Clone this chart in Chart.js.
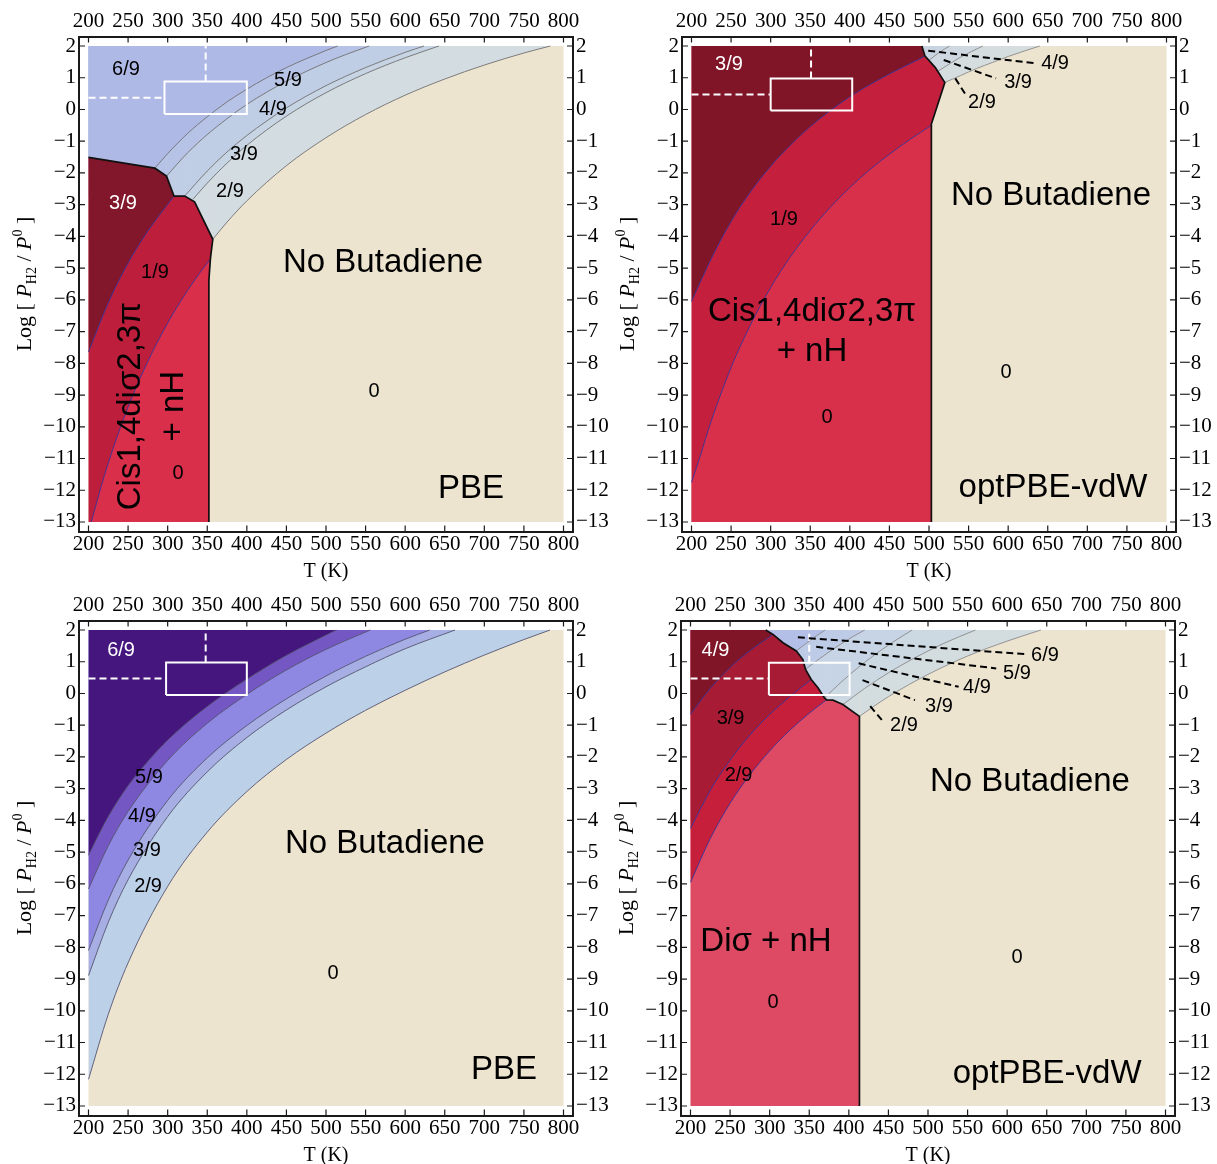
<!DOCTYPE html>
<html lang="en">
<head>
<meta charset="utf-8">
<title>Butadiene + H phase diagrams (PBE / optPBE-vdW)</title>
<script src="https://cdn.jsdelivr.net/npm/chart.js@4.4.1/dist/chart.umd.min.js"></script>
<style>
  html, body { margin: 0; padding: 0; background: #ffffff; }
  #figure { position: relative; width: 1217px; height: 1164px; overflow: hidden; }
  #figure canvas { position: absolute; }
</style>
</head>
<body>
<div id="figure">
  <canvas id="pbeTop" width="625" height="584" style="left:0px;top:0px"></canvas>
  <canvas id="vdwTop" width="625" height="584" style="left:603px;top:0px"></canvas>
  <canvas id="pbeBot" width="625" height="584" style="left:0px;top:584px"></canvas>
  <canvas id="vdwBot" width="625" height="584" style="left:602px;top:584px"></canvas>
</div>
<script>
// ---------------- axes ----------------
const tempTicks = [200, 250, 300, 350, 400, 450, 500, 550, 600, 650, 700, 750, 800];
const logPTicks = [2, 1, 0, -1, -2, -3, -4, -5, -6, -7, -8, -9, -10, -11, -12, -13];
const T_MIN = 200, T_MAX = 800, P_MIN = -13, P_MAX = 2;

// ---------------- PBE, Cis1,4diσ2,3π (top left) ----------------
// black phase edge between the adsorbed-butadiene states and the H-covered surface
const pbeTop_edgeT = [200, 283.8, 298.5, 308, 321.5, 334, 357, 354, 352, 352];
const pbeTop_edgeP = [-1.51, -1.85, -2.10, -2.73, -2.73, -2.91, -4.09, -4.70, -5.40, -13];
const pbeTop_r31T = [200, 225, 250, 275, 308];
const pbeTop_r31P = [-7.64, -6.09, -4.84, -3.83, -2.73];
const pbeTop_r10T = [203.5, 220, 240, 260, 280, 300, 320, 340, 353];
const pbeTop_r10P = [-13, -11.54, -10.04, -8.77, -7.68, -6.73, -5.90, -5.17, -4.74];
const pbeTop_c65T = [283.8, 300, 325, 350, 375, 400, 425, 450, 475, 500, 514.6];
const pbeTop_c65P = [-1.85, -1.39, -0.76, -0.23, 0.24, 0.64, 1.00, 1.32, 1.60, 1.86, 2];
const pbeTop_c54T = [298.5, 325, 350, 375, 400, 450, 500, 525, 554.5];
const pbeTop_c54P = [-2.10, -1.37, -0.79, -0.29, 0.16, 0.89, 1.48, 1.73, 2];
const pbeTop_c43T = [321.5, 350, 375, 400, 450, 500, 550, 600, 623.8];
const pbeTop_c43P = [-2.73, -1.94, -1.34, -0.82, 0.05, 0.75, 1.32, 1.80, 2];
const pbeTop_c32T = [332, 350, 375, 400, 450, 500, 550, 600, 642.7];
const pbeTop_c32P = [-2.83, -2.32, -1.69, -1.13, -0.21, 0.53, 1.13, 1.63, 2];
const pbeTop_c20T = [357, 375, 400, 450, 500, 550, 600, 650, 700, 750, 783.4];
const pbeTop_c20P = [-4.09, -3.55, -2.88, -1.77, -0.89, -0.16, 0.45, 0.96, 1.40, 1.78, 2];
const pbeTop_boxT = [296, 400], pbeTop_boxP = [-0.14, 0.88], pbeTop_guide = [348, 0.37];

// ---------------- optPBE-vdW, Cis1,4diσ2,3π (top right) ----------------
const vdwTop_edgeT = [491, 495, 508, 520, 503, 503];
const vdwTop_edgeP = [2, 1.68, 1.32, 0.85, -0.46, -13];
const vdwTop_r31T = [200, 225, 250, 275, 300, 325, 350, 375, 400, 425, 450, 475, 495];
const vdwTop_r31P = [-6.05, -4.70, -3.53, -2.58, -1.79, -1.12, -0.54, -0.04, 0.40, 0.78, 1.12, 1.43, 1.68];
const vdwTop_r10T = [200, 210, 225, 250, 275, 300, 325, 350, 375, 400, 425, 450, 475, 503];
const vdwTop_r10P = [-11.75, -11.0, -9.81, -8.13, -6.76, -5.61, -4.64, -3.81, -3.09, -2.46, -1.90, -1.41, -0.96, -0.50];
const vdwTop_c43T = [500, 513, 526];
const vdwTop_c43P = [1.55, 1.80, 2];
const vdwTop_c32T = [511, 540, 568];
const vdwTop_c32P = [1.20, 1.65, 2];
const vdwTop_c20T = [520, 540, 560, 580, 600, 620, 640];
const vdwTop_c20P = [0.85, 1.07, 1.29, 1.48, 1.67, 1.84, 2];
const vdwTop_boxT = [300, 403], vdwTop_boxP = [-0.03, 0.98], vdwTop_guide = [351, 0.47];
const vdwTop_tagT = [[499, 636], [518.6, 584.7], [533.2, 548]];
const vdwTop_tagP = [[1.85, 1.45], [1.56, 0.98], [0.98, 0.40]];

// ---------------- PBE, Diσ (bottom left) ----------------
const pbeBot_c65T = [200, 225, 250, 275, 300, 350, 400, 450, 513];
const pbeBot_c65P = [-5.10, -3.88, -2.91, -2.14, -1.47, -0.41, 0.45, 1.20, 2];
const pbeBot_c54T = [200, 225, 250, 300, 350, 400, 450, 500, 556];
const pbeBot_c54P = [-6.16, -4.80, -3.72, -2.11, -0.94, -0.03, 0.74, 1.39, 2];
const pbeBot_c43T = [200, 225, 250, 300, 350, 400, 450, 500, 550, 600, 631];
const pbeBot_c43P = [-8.10, -6.51, -5.25, -3.37, -2.03, -1.01, -0.17, 0.55, 1.17, 1.71, 2];
const pbeBot_c32T = [200, 225, 250, 300, 350, 400, 450, 500, 550, 600, 663];
const pbeBot_c32P = [-8.89, -7.21, -5.87, -3.88, -2.47, -1.39, -0.52, 0.21, 0.84, 1.41, 2];
const pbeBot_c20T = [200, 225, 250, 300, 350, 400, 450, 500, 550, 600, 650, 700, 750, 783];
const pbeBot_c20P = [-12.16, -10.11, -8.49, -6.08, -4.37, -3.09, -2.08, -1.25, -0.53, 0.10, 0.68, 1.21, 1.70, 2];
const pbeBot_boxT = [298, 400], pbeBot_boxP = [-0.05, 0.98], pbeBot_guide = [348, 0.47];

// ---------------- optPBE-vdW, Diσ (bottom right) ----------------
const vdwBot_edgeT = [295, 304.2, 316.8, 333.6, 342, 345.3, 352.5, 361, 369.3, 372, 380, 392.5, 413.4, 413.4];
const vdwBot_edgeP = [2, 1.86, 1.60, 1.34, 1.07, 0.76, 0.44, 0.18, -0.14, -0.20, -0.21, -0.35, -0.72, -13];
const vdwBot_r43T = [200, 225, 250, 275, 304.2];
const vdwBot_r43P = [-0.655, 0.16, 0.82, 1.35, 1.86];
const vdwBot_r32T = [200, 225, 250, 275, 300, 325, 352.5];
const vdwBot_r32P = [-4.25, -3.05, -2.10, -1.31, -0.66, -0.11, 0.44];
const vdwBot_r20T = [200, 225, 250, 275, 300, 325, 350, 372];
const vdwBot_r20P = [-5.95, -4.57, -3.46, -2.56, -1.81, -1.17, -0.62, -0.20];
const vdwBot_c65T = [333.6, 345, 357, 370];
const vdwBot_c65P = [1.34, 1.56, 1.78, 2];
const vdwBot_c54T = [345.3, 360, 375, 390, 405, 420];
const vdwBot_c54P = [0.76, 1.04, 1.31, 1.56, 1.79, 2];
const vdwBot_c43T = [369.3, 390, 410, 430, 455, 480];
const vdwBot_c43P = [-0.14, 0.35, 0.78, 1.17, 1.61, 2];
const vdwBot_c32T = [392.5, 420, 450, 480, 520, 560];
const vdwBot_c32P = [-0.35, 0.16, 0.65, 1.08, 1.58, 2];
const vdwBot_c20T = [413.4, 450, 500, 550, 600, 642.5];
const vdwBot_c20P = [-0.72, -0.10, 0.60, 1.18, 1.65, 2];
const vdwBot_boxT = [299, 401], vdwBot_boxP = [-0.05, 0.97], vdwBot_guide = [350, 0.47];
const vdwBot_tagT = [[335.6, 622.3], [358.8, 586.2], [412.4, 538.7], [417.3, 483.5], [427, 441.8]];
const vdwBot_tagP = [[1.77, 1.24], [1.47, 0.79], [0.95, 0.21], [0.42, -0.21], [-0.40, -0.84]];

// ---------------- helpers ----------------
const BEIGE = '#EDE4D0';
const T_PAD = 12, P_PAD = 0.3;
const pts = (T, P) => T.map((t, i) => ({x: t, y: P[i]}));
const rect = (x0, y0, x1, y1) => [{x: x0, y: y0}, {x: x1, y: y0}, {x: x1, y: y1}, {x: x0, y: y1}];
const corner = (x, y) => ({x, y});

function base(data, extra) {
  return Object.assign({
    type: 'line', data, xAxisID: 'x', yAxisID: 'y',
    pointRadius: 0, pointHoverRadius: 0, pointHitRadius: 0,
    borderWidth: 0, borderColor: 'rgba(0,0,0,0)', backgroundColor: 'rgba(0,0,0,0)',
    fill: false, tension: 0
  }, extra);
}
const polygon = (data, color) => base(data, {fill: 'shape', backgroundColor: color});
const areaTo = (data, value, color) => base(data, {fill: {target: {value}}, backgroundColor: color, cubicInterpolationMode: 'monotone'});
const between = (data, idx, color) => base(data, {fill: idx, backgroundColor: color, cubicInterpolationMode: 'monotone'});
const stroke = (data, color, width, extra) => base(data, Object.assign({borderColor: color, borderWidth: width}, extra || {}));

function panelDatasets(p) {
  const L = [];
  const push = d => { L.push(d); return L.length - 1; };
  push(polygon(rect(T_MIN, P_MIN, T_MAX, P_MAX), BEIGE));
  // coverage bands, lowest coverage first; each is painted above its boundary curve
  for (const b of p.bands) {
    const s = b.line[0];
    if (s.x > T_MIN) push(polygon(rect(T_MIN, s.y, s.x, P_MAX), b.color));
    push(areaTo(b.line, P_MAX, b.color));
  }
  if (p.red) {
    push(polygon(p.red.outline, p.red.color));
    const cap = push(stroke(p.red.cap, 'rgba(0,0,0,0)', 0));
    for (const r of p.red.layers) {
      if (r.mode === 'below') push(areaTo(r.line, P_MIN, r.color));
      else push(between(r.line, cap, r.color));
    }
  }
  for (const b of p.bands) push(stroke(b.line, p.bandStroke, 0.9, {cubicInterpolationMode: 'monotone'}));
  if (p.red) {
    for (const r of p.red.layers) push(stroke(r.line, '#36369c', 0.9, {cubicInterpolationMode: 'monotone'}));
    push(stroke(p.red.edge, '#111111', 1.7));
  }
  // reaction-condition window and guides
  const [t0, t1] = p.boxT, [q0, q1] = p.boxP, [gT, gP] = p.guide;
  push(stroke([corner(t0, q0), corner(t1, q0), corner(t1, q1), corner(t0, q1), corner(t0, q0)], '#ffffff', 2));
  push(stroke([corner(T_MIN, gP), corner(t0, gP)], '#ffffff', 2, {borderDash: [7, 4]}));
  push(stroke([corner(gT, q1), corner(gT, P_MAX)], '#ffffff', 2, {borderDash: [7, 4]}));
  for (const q of (p.tags || [])) push(stroke(q, '#000000', 2, {borderDash: [7, 4]}));
  const n = L.length;
  L.forEach((d, i) => { d.order = n - i; });
  return L;
}

const tagLines = (T, P) => T.map((t, i) => pts(t, P[i]));

// ---------------- panel descriptions ----------------
const panels = {
  pbeTop: {
    bands: [
      {line: pts(pbeTop_c20T, pbeTop_c20P), color: '#D3DCE0'},
      {line: pts(pbeTop_c32T, pbeTop_c32P), color: '#C6D4E4'},
      {line: pts(pbeTop_c43T, pbeTop_c43P), color: '#BFCDE5'},
      {line: pts(pbeTop_c54T, pbeTop_c54P), color: '#B7C3E6'},
      {line: pts(pbeTop_c65T, pbeTop_c65P), color: '#AFB9E6'}
    ],
    bandStroke: '#707070',
    red: {
      outline: [...pts(pbeTop_edgeT, pbeTop_edgeP), corner(T_MIN, P_MIN)],
      color: '#BC1E3C',
      cap: pts(pbeTop_edgeT.slice(0, 4), pbeTop_edgeP.slice(0, 4)),
      layers: [
        {line: pts(pbeTop_r10T, pbeTop_r10P), mode: 'below', color: '#D92F4B'},
        {line: pts(pbeTop_r31T, pbeTop_r31P), mode: 'between', color: '#82162A'}
      ],
      edge: pts(pbeTop_edgeT, pbeTop_edgeP)
    },
    boxT: pbeTop_boxT, boxP: pbeTop_boxP, guide: pbeTop_guide,
    notes: [
      {text: '6/9', T: 247.4, P: 1.31, size: 20},
      {text: '5/9', T: 452.0, P: 0.96, size: 20},
      {text: '4/9', T: 433.0, P: 0.05, size: 20},
      {text: '3/9', T: 396.4, P: -1.37, size: 20},
      {text: '2/9', T: 378.7, P: -2.54, size: 20},
      {text: '3/9', T: 243.6, P: -2.92, size: 20, color: '#ffffff'},
      {text: '1/9', T: 284.0, P: -5.09, size: 20},
      {text: 'No Butadiene', T: 572, P: -4.74, size: 33},
      {text: '0', T: 560.6, P: -8.84, size: 20},
      {text: '0', T: 313, P: -11.43, size: 20},
      {text: 'PBE', T: 683.1, P: -11.87, size: 33},
      {text: 'Cis1,4diσ2,3π', T: 249.9, P: -9.35, size: 33, rot: -90},
      {text: '+ nH', T: 304.2, P: -9.35, size: 33, rot: -90}
    ]
  },
  vdwTop: {
    bands: [
      {line: pts(vdwTop_c20T, vdwTop_c20P), color: '#D5DDDF'},
      {line: pts(vdwTop_c32T, vdwTop_c32P), color: '#CFD8E0'},
      {line: pts(vdwTop_c43T, vdwTop_c43P), color: '#C9D4E2'}
    ],
    bandStroke: '#8a8a8a',
    red: {
      outline: [corner(T_MIN, P_MAX), ...pts(vdwTop_edgeT, vdwTop_edgeP), corner(T_MIN, P_MIN)],
      color: '#C41F3C',
      cap: [corner(T_MIN, P_MAX), ...pts(vdwTop_edgeT.slice(0, 2), vdwTop_edgeP.slice(0, 2))],
      layers: [
        {line: pts(vdwTop_r10T, vdwTop_r10P), mode: 'below', color: '#D8304A'},
        {line: pts(vdwTop_r31T, vdwTop_r31P), mode: 'between', color: '#811528'}
      ],
      edge: pts(vdwTop_edgeT, vdwTop_edgeP)
    },
    boxT: vdwTop_boxT, boxP: vdwTop_boxP, guide: vdwTop_guide,
    tags: tagLines(vdwTop_tagT, vdwTop_tagP),
    notes: [
      {text: '3/9', T: 247.4, P: 1.46, size: 20, color: '#ffffff'},
      {text: '1/9', T: 316.8, P: -3.42, size: 20},
      {text: 'Cis1,4diσ2,3π', T: 352.2, P: -6.29, size: 33},
      {text: '+ nH', T: 352.2, P: -7.55, size: 33},
      {text: '0', T: 371.1, P: -9.66, size: 20},
      {text: 'No Butadiene', T: 654.1, P: -2.63, size: 33},
      {text: '0', T: 597.2, P: -8.24, size: 20},
      {text: 'optPBE-vdW', T: 656.6, P: -11.85, size: 33},
      {text: '4/9', T: 659.2, P: 1.50, size: 20},
      {text: '3/9', T: 612.5, P: 0.90, size: 20},
      {text: '2/9', T: 566.9, P: 0.27, size: 20}
    ]
  },
  pbeBot: {
    bands: [
      {line: pts(pbeBot_c20T, pbeBot_c20P), color: '#BCD0E7'},
      {line: pts(pbeBot_c32T, pbeBot_c32P), color: '#A6AEE4'},
      {line: pts(pbeBot_c43T, pbeBot_c43P), color: '#8E88E2'},
      {line: pts(pbeBot_c54T, pbeBot_c54P), color: '#7457C2'},
      {line: pts(pbeBot_c65T, pbeBot_c65P), color: '#46167F'}
    ],
    bandStroke: '#555570',
    boxT: pbeBot_boxT, boxP: pbeBot_boxP, guide: pbeBot_guide,
    notes: [
      {text: '6/9', T: 241.1, P: 1.40, size: 20, color: '#ffffff'},
      {text: '5/9', T: 276.4, P: -2.58, size: 20},
      {text: '4/9', T: 267.6, P: -3.81, size: 20},
      {text: '3/9', T: 273.9, P: -4.88, size: 20},
      {text: '2/9', T: 275.2, P: -6.02, size: 20},
      {text: 'No Butadiene', T: 574.5, P: -4.66, size: 33},
      {text: '0', T: 508.8, P: -8.78, size: 20},
      {text: 'PBE', T: 724.8, P: -11.77, size: 33}
    ]
  },
  vdwBot: {
    bands: [
      {line: pts(vdwBot_c20T, vdwBot_c20P), color: '#D3DCDF'},
      {line: pts(vdwBot_c32T, vdwBot_c32P), color: '#CCD8E2'},
      {line: pts(vdwBot_c43T, vdwBot_c43P), color: '#C6D4E5'},
      {line: pts(vdwBot_c54T, vdwBot_c54P), color: '#BECBE7'},
      {line: pts(vdwBot_c65T, vdwBot_c65P), color: '#B4BFE8'}
    ],
    bandStroke: '#8a8a8a',
    red: {
      outline: [corner(T_MIN, P_MAX), ...pts(vdwBot_edgeT, vdwBot_edgeP), corner(T_MIN, P_MIN)],
      color: '#DE4A63',
      cap: [corner(T_MIN, P_MAX), ...pts(vdwBot_edgeT.slice(0, -1), vdwBot_edgeP.slice(0, -1))],
      layers: [
        {line: pts(vdwBot_r20T, vdwBot_r20P), mode: 'between', color: '#C51F3C'},
        {line: pts(vdwBot_r32T, vdwBot_r32P), mode: 'between', color: '#A71B35'},
        {line: pts(vdwBot_r43T, vdwBot_r43P), mode: 'between', color: '#7F1527'}
      ],
      edge: pts(vdwBot_edgeT, vdwBot_edgeP)
    },
    boxT: vdwBot_boxT, boxP: vdwBot_boxP, guide: vdwBot_guide,
    tags: tagLines(vdwBot_tagT, vdwBot_tagP),
    notes: [
      {text: '4/9', T: 231.6, P: 1.40, size: 20, color: '#ffffff'},
      {text: '3/9', T: 250.6, P: -0.74, size: 20},
      {text: '2/9', T: 260.7, P: -2.52, size: 20},
      {text: 'No Butadiene', T: 628.8, P: -2.70, size: 33},
      {text: 'Diσ + nH', T: 295.4, P: -7.74, size: 33},
      {text: '0', T: 304.2, P: -9.69, size: 20},
      {text: '0', T: 612.4, P: -8.27, size: 20},
      {text: 'optPBE-vdW', T: 650.5, P: -11.90, size: 33},
      {text: '6/9', T: 647.8, P: 1.24, size: 20},
      {text: '5/9', T: 612.4, P: 0.67, size: 20},
      {text: '4/9', T: 561.9, P: 0.23, size: 20},
      {text: '3/9', T: 513.9, P: -0.37, size: 20},
      {text: '2/9', T: 469.6, P: -0.97, size: 20}
    ]
  }
};

// ---------------- text, frame ticks and axis title ----------------
const SANS = '"Liberation Sans", Arial, Helvetica, sans-serif';
const SERIF = '"Liberation Serif", "Times New Roman", serif';

function drawYTitle(ctx, cx, cy) {
  const big = 22, small = 14;
  const runs = [
    {t: 'Log [ ', f: `${big}px ${SERIF}`, dy: 0},
    {t: 'P', f: `italic ${big}px ${SERIF}`, dy: 0},
    {t: 'H2', f: `${small}px ${SERIF}`, dy: 5},
    {t: ' / ', f: `${big}px ${SERIF}`, dy: 0},
    {t: 'P', f: `italic ${big}px ${SERIF}`, dy: 0},
    {t: '0', f: `${small}px ${SERIF}`, dy: -9},
    {t: ' ]', f: `${big}px ${SERIF}`, dy: 0}
  ];
  let total = 0;
  for (const r of runs) { ctx.font = r.f; r.w = ctx.measureText(r.t).width; total += r.w; }
  ctx.save();
  ctx.translate(cx, cy);
  ctx.rotate(-Math.PI / 2);
  ctx.fillStyle = '#000';
  ctx.textAlign = 'left';
  ctx.textBaseline = 'alphabetic';
  let x = -total / 2;
  for (const r of runs) { ctx.font = r.f; ctx.fillText(r.t, x, 0.33 * big + r.dy); x += r.w; }
  ctx.restore();
}

const figureText = {
  id: 'figureText',
  afterDraw(chart) {
    const spec = panels[chart.canvas.id];
    const {ctx, chartArea: a, scales} = chart;
    const xs = scales.x, ys = scales.y;
    ctx.save();
    ctx.strokeStyle = '#1a1a1a';
    ctx.lineWidth = 1.2;
    ctx.beginPath();
    for (const v of tempTicks) {
      const px = xs.getPixelForValue(v);
      ctx.moveTo(px, a.top); ctx.lineTo(px, a.top + 6);
      ctx.moveTo(px, a.bottom); ctx.lineTo(px, a.bottom - 6);
    }
    for (const v of logPTicks) {
      const py = ys.getPixelForValue(v);
      ctx.moveTo(a.left, py); ctx.lineTo(a.left + 6, py);
      ctx.moveTo(a.right, py); ctx.lineTo(a.right - 6, py);
    }
    ctx.stroke();
    for (const n of spec.notes) {
      ctx.save();
      ctx.translate(xs.getPixelForValue(n.T), ys.getPixelForValue(n.P));
      if (n.rot) ctx.rotate(n.rot * Math.PI / 180);
      ctx.font = `${n.size}px ${SANS}`;
      ctx.fillStyle = n.color || '#000000';
      ctx.textAlign = 'center';
      ctx.textBaseline = 'alphabetic';
      ctx.fillText(n.text, 0, 0.36 * n.size);
      ctx.restore();
    }
    drawYTitle(ctx, 24, (a.top + a.bottom) / 2);
    ctx.restore();
  }
};

// ---------------- charts ----------------
const tickFont = {family: SERIF, size: 21};
const fmt = v => (v < 0 ? '\u2212' + Math.abs(v) : String(v));
const frame = {display: true, color: '#1a1a1a', width: 2};

function tScale(position, height, pad, withTitle) {
  return {
    type: 'linear', position, min: T_MIN - T_PAD, max: T_MAX + T_PAD,
    afterBuildTicks: s => { s.ticks = tempTicks.map(v => ({value: v})); },
    afterFit: s => { s.height = height; },
    grid: {display: false, drawTicks: false},
    border: frame,
    ticks: {font: tickFont, color: '#000', padding: pad, autoSkip: false, maxRotation: 0, minRotation: 0, callback: fmt},
    title: {display: withTitle, text: 'T (K)', color: '#000', font: {family: SERIF, size: 20}, padding: {top: 0, bottom: 0}}
  };
}
function pScale(position, width) {
  return {
    type: 'linear', position, min: P_MIN - P_PAD, max: P_MAX + P_PAD,
    afterBuildTicks: s => { s.ticks = logPTicks.map(v => ({value: v})); },
    afterFit: s => { s.width = width; },
    grid: {display: false, drawTicks: false},
    border: frame,
    ticks: {font: tickFont, color: '#000', padding: 3, autoSkip: false, callback: fmt}
  };
}

for (const id of Object.keys(panels)) {
  new Chart(document.getElementById(id), {
    type: 'line',
    data: {datasets: panelDatasets(panels[id])},
    options: {
      responsive: false, animation: false, devicePixelRatio: 1, events: [],
      layout: {padding: 0},
      plugins: {legend: {display: false}, tooltip: {enabled: false}},
      scales: {
        x: tScale('bottom', 52.5, 0, true),
        x2: tScale('top', 36.5, 2, false),
        y: pScale('left', 79),
        y2: pScale('right', 52)
      }
    },
    plugins: [figureText]
  });
}
</script>
</body>
</html>
